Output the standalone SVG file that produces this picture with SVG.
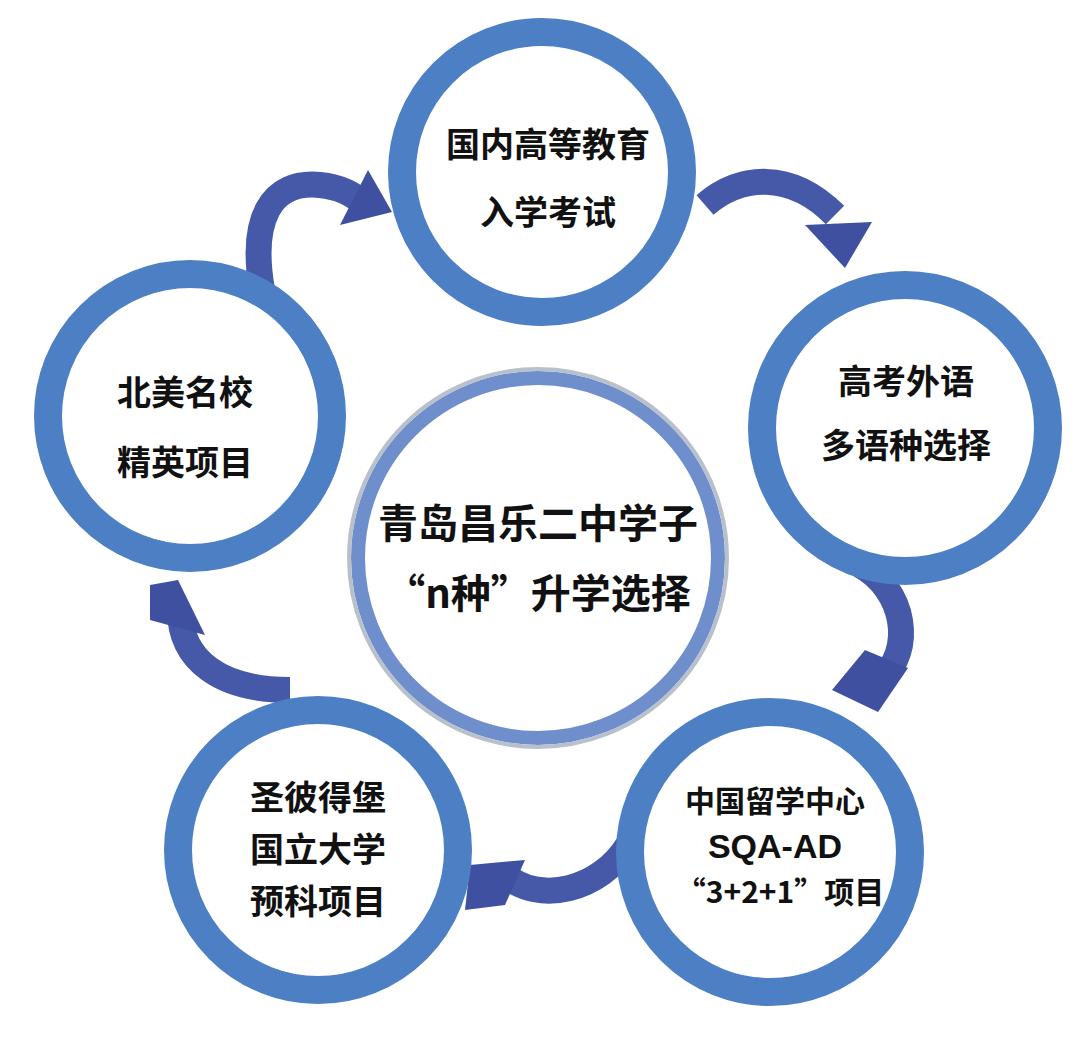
<svg xmlns="http://www.w3.org/2000/svg" width="1080" height="1041" viewBox="0 0 1080 1041">
<style>
.ring{fill:#fff;stroke:#4d7fc4;stroke-width:28}
.t{font-family:"Noto Sans CJK SC","Liberation Sans",sans-serif;font-weight:bold;font-size:34px;fill:#111;text-anchor:middle}
.c{font-size:40px}
.arr{fill:none;stroke:#4658a8;stroke-width:26;stroke-linecap:butt}
.head{fill:#3f50a0}
</style>
<rect width="1080" height="1041" fill="#fff"/>
<g id="connectors">
<path class="arr" d="M262 290 C250 220 270 180 320 185 C340 187 355 195 365 205"/>
<polygon class="head" points="340,225 392,212 368,170"/>
<path class="arr" d="M705 205 C740 175 790 170 835 215"/>
<polygon class="head" points="805,225 872,222 845,268"/>
<path class="arr" d="M860 565 C905 590 915 650 880 680"/>
<polygon class="head" points="865,650 908,668 878,712 832,690"/>
<path class="arr" d="M628 845 C600 890 540 905 505 875"/>
<polygon class="head" points="525,860 470,865 465,910 505,905"/>
<path class="arr" d="M290 690 C220 690 180 660 180 610"/>
<polygon class="head" points="150,620 205,635 178,580 150,585"/>
</g>
<g id="center"><circle cx="538" cy="558" r="180" fill="#fff" stroke="#6f8fcc" stroke-width="14"/><circle cx="538" cy="558" r="189" fill="none" stroke="#b8c0cc" stroke-width="4"/>
<text class="t c" x="538" y="538">青岛昌乐二中学子</text><text class="t c" x="538" y="608">“n种”升学选择</text></g>
<g id="n1"><circle class="ring" cx="542" cy="172" r="140"/><text class="t" x="548" y="157">国内高等教育</text><text class="t" x="548" y="225">入学考试</text></g>
<g id="n2"><circle class="ring" cx="905" cy="428" r="143"/><text class="t" x="906" y="394">高考外语</text><text class="t" x="906" y="458">多语种选择</text></g>
<g id="n3"><circle class="ring" cx="770" cy="852" r="140"/><text class="t" x="775" y="812" style="font-size:30px">中国留学中心</text><text class="t" x="775" y="858" style="font-family:'Liberation Sans',sans-serif;font-size:34px">SQA-AD</text><text class="t" x="780" y="903" style="font-size:30px">“3+2+1”项目</text></g>
<g id="n4"><circle class="ring" cx="318" cy="850" r="140"/><text class="t" x="318" y="810">圣彼得堡</text><text class="t" x="318" y="862">国立大学</text><text class="t" x="318" y="914">预科项目</text></g>
<g id="n5"><circle class="ring" cx="190" cy="416" r="142"/><text class="t" x="185" y="405">北美名校</text><text class="t" x="185" y="475">精英项目</text></g>
</svg>
